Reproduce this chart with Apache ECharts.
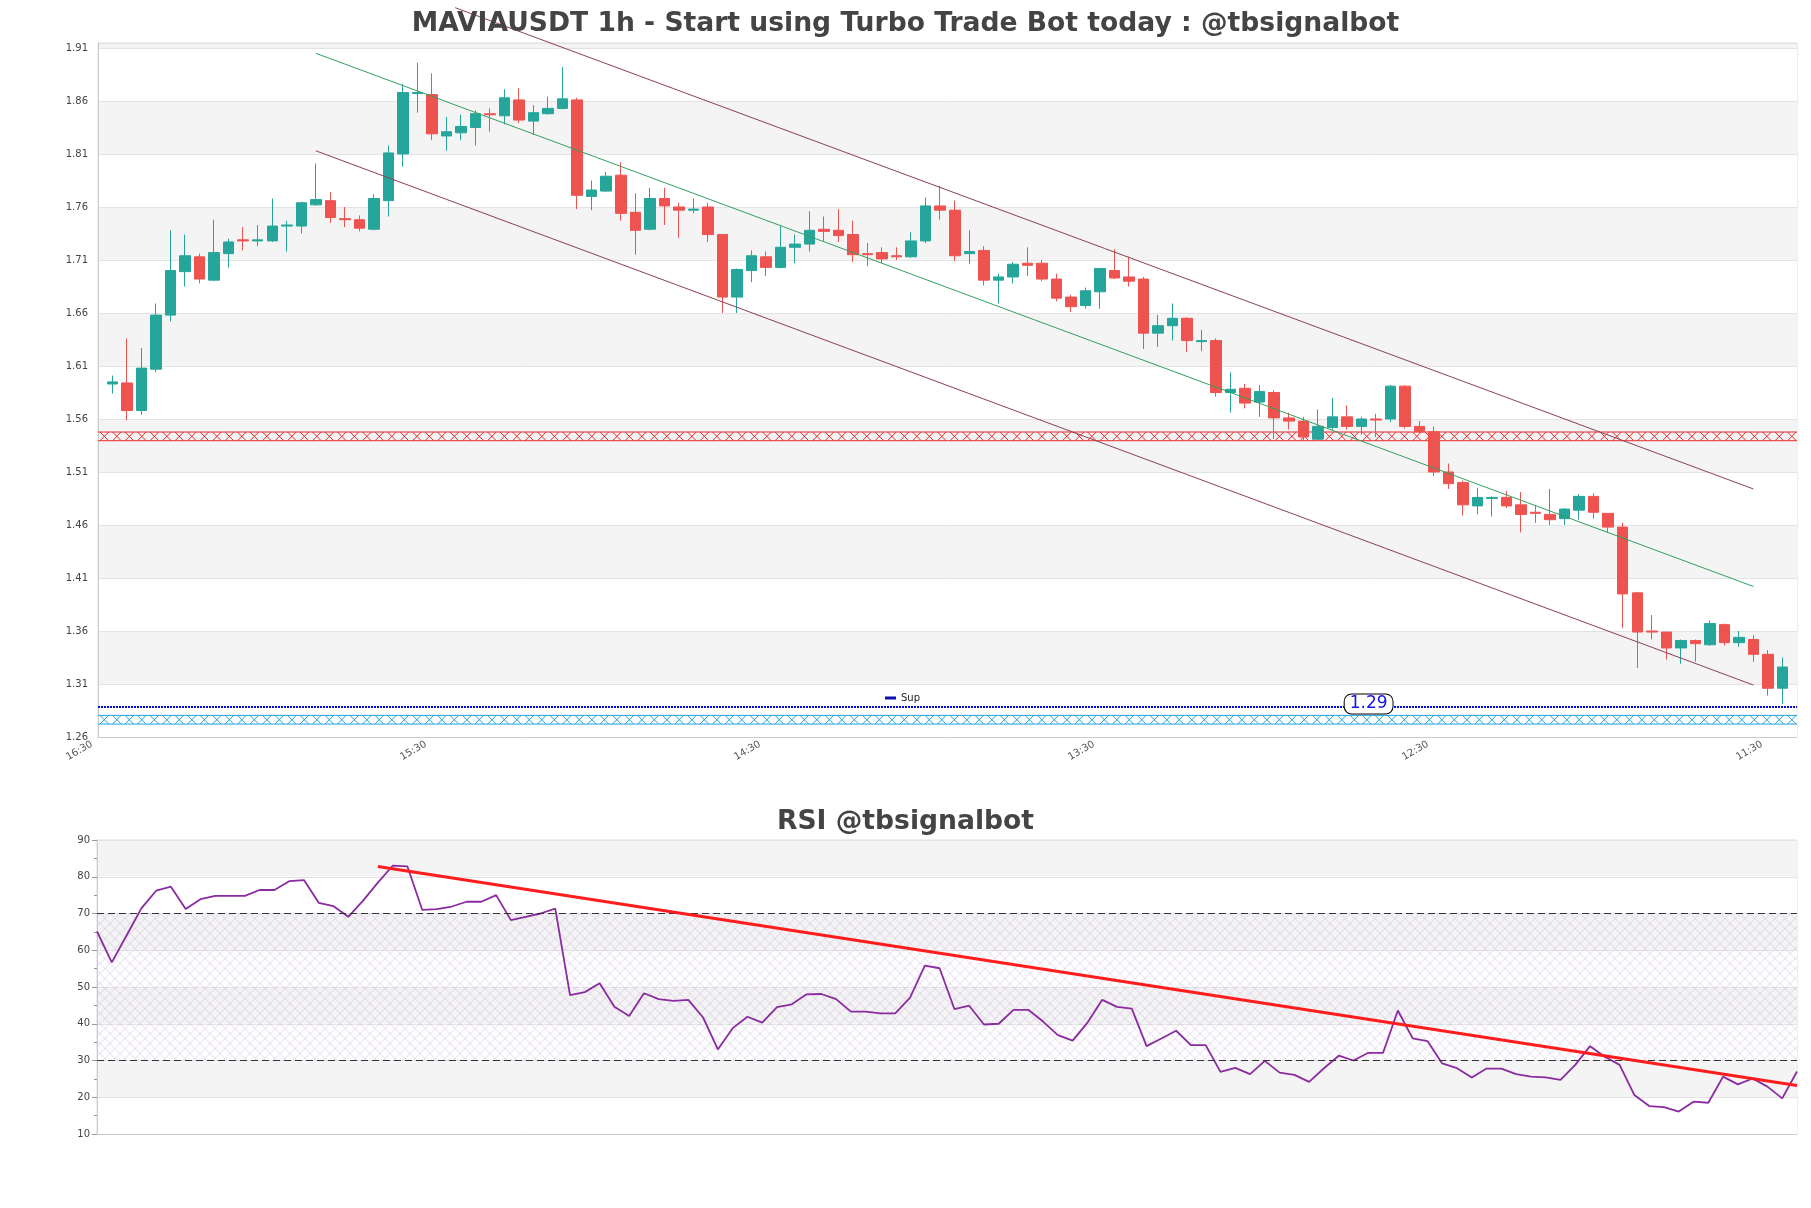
<!DOCTYPE html>
<html>
<head>
<meta charset="utf-8">
<script src="https://cdn.jsdelivr.net/npm/echarts@6/dist/echarts.min.js"></script>
<style>
html, body { margin: 0; padding: 0; background: #fff; }
#chart { width: 1811px; height: 1208px; }
</style>
</head>
<body>
<div id="chart"></div>
<script>
// x tick labels (one every 23 candles, starting one step left of the first candle)
var TIME_LABELS = ['16:30', '15:30', '14:30', '13:30', '12:30', '11:30'];

var OPEN = [1.593,1.594,1.568,1.607,1.658,1.699,1.713,1.691,1.716,1.729,
  1.728,1.728,1.742,1.742,1.762,1.766,1.749,1.748,1.739,1.766,
  1.810,1.867,1.866,1.827,1.830,1.835,1.848,1.846,1.861,1.841,
  1.848,1.853,1.861,1.770,1.775,1.790,1.755,1.739,1.768,1.760,
  1.757,1.760,1.734,1.675,1.700,1.713,1.703,1.722,1.725,1.739,
  1.738,1.734,1.716,1.717,1.714,1.713,1.728,1.761,1.757,1.716,
  1.719,1.691,1.694,1.707,1.707,1.692,1.675,1.667,1.680,1.700,
  1.694,1.692,1.641,1.648,1.655,1.633,1.634,1.585,1.589,1.576,
  1.585,1.561,1.558,1.541,1.552,1.562,1.553,1.560,1.560,1.591,
  1.553,1.548,1.510,1.500,1.478,1.485,1.486,1.479,1.472,1.470,
  1.466,1.474,1.487,1.471,1.458,1.396,1.360,1.359,1.344,1.351,
  1.347,1.366,1.349,1.352,1.338,1.306];

var CLOSE = [1.595,1.568,1.608,1.658,1.700,1.714,1.692,1.717,1.727,1.728,
  1.729,1.742,1.743,1.764,1.767,1.750,1.748,1.740,1.768,1.811,
  1.868,1.868,1.829,1.831,1.836,1.848,1.847,1.863,1.842,1.849,
  1.853,1.862,1.771,1.776,1.789,1.754,1.738,1.768,1.761,1.757,
  1.758,1.734,1.675,1.701,1.714,1.703,1.722,1.725,1.738,1.737,
  1.733,1.715,1.715,1.711,1.713,1.728,1.761,1.757,1.714,1.718,
  1.691,1.694,1.706,1.705,1.692,1.674,1.666,1.681,1.702,1.693,
  1.690,1.641,1.648,1.655,1.634,1.634,1.585,1.588,1.575,1.586,
  1.561,1.558,1.543,1.553,1.562,1.553,1.560,1.559,1.591,1.553,
  1.548,1.510,1.499,1.479,1.486,1.486,1.478,1.470,1.471,1.465,
  1.475,1.487,1.472,1.458,1.395,1.359,1.359,1.344,1.351,1.348,
  1.367,1.349,1.354,1.338,1.306,1.326];

var LOW = [1.584,1.559,1.564,1.604,1.652,1.685,1.688,1.690,1.703,1.719,
  1.723,1.727,1.718,1.735,1.761,1.745,1.741,1.737,1.738,1.751,
  1.798,1.849,1.823,1.813,1.823,1.818,1.831,1.838,1.839,1.828,
  1.847,1.852,1.758,1.757,1.774,1.747,1.715,1.738,1.743,1.731,
  1.754,1.727,1.660,1.660,1.689,1.695,1.702,1.707,1.718,1.728,
  1.727,1.708,1.704,1.707,1.710,1.712,1.726,1.748,1.709,1.706,
  1.686,1.669,1.688,1.695,1.690,1.671,1.661,1.664,1.664,1.692,
  1.685,1.626,1.628,1.634,1.623,1.624,1.581,1.566,1.570,1.562,
  1.541,1.550,1.540,1.540,1.550,1.550,1.545,1.543,1.557,1.551,
  1.547,1.506,1.494,1.469,1.470,1.468,1.476,1.453,1.462,1.460,
  1.460,1.465,1.466,1.453,1.363,1.325,1.352,1.333,1.329,1.331,
  1.346,1.346,1.345,1.331,1.299,1.291];

var HIGH = [1.601,1.636,1.627,1.669,1.738,1.734,1.716,1.748,1.730,1.741,
  1.743,1.768,1.747,1.765,1.801,1.774,1.760,1.752,1.772,1.818,
  1.876,1.896,1.886,1.845,1.847,1.851,1.853,1.871,1.872,1.856,
  1.864,1.892,1.863,1.785,1.793,1.802,1.773,1.778,1.778,1.764,
  1.768,1.764,1.734,1.702,1.719,1.718,1.742,1.734,1.756,1.751,
  1.758,1.747,1.726,1.722,1.722,1.736,1.769,1.780,1.766,1.738,
  1.723,1.697,1.708,1.722,1.710,1.697,1.677,1.684,1.702,1.720,
  1.713,1.694,1.658,1.669,1.656,1.644,1.636,1.604,1.593,1.592,
  1.587,1.566,1.562,1.569,1.580,1.573,1.562,1.565,1.592,1.592,
  1.558,1.553,1.518,1.502,1.495,1.487,1.492,1.491,1.479,1.494,
  1.476,1.489,1.490,1.471,1.462,1.397,1.375,1.359,1.352,1.352,
  1.370,1.367,1.360,1.356,1.342,1.335];

var RSI = [65.1,56.7,64.0,71.4,76.2,77.3,71.2,73.9,74.8,74.8,
  74.8,76.4,76.4,78.8,79.1,72.9,72.0,69.1,73.5,78.4,
  83.0,82.8,71.0,71.2,71.9,73.2,73.2,75.0,68.2,69.1,
  70.0,71.3,47.8,48.6,51.0,44.6,42.1,48.3,46.7,46.2,
  46.5,41.7,33.0,38.8,41.9,40.3,44.5,45.3,48.0,48.1,
  46.7,43.3,43.3,42.8,42.8,47.1,55.8,55.1,44.0,44.9,
  39.8,40.0,43.8,43.8,40.6,36.9,35.4,40.3,46.5,44.6,
  44.1,33.9,36.0,38.1,34.2,34.2,26.9,28.0,26.3,29.9,
  26.7,26.1,24.2,27.9,31.3,30.0,32.1,32.1,43.6,36.0,
  35.3,29.2,27.9,25.4,27.8,27.8,26.3,25.6,25.4,24.7,
  28.8,33.9,31.0,28.8,20.6,17.6,17.3,16.1,18.8,18.5,
  25.6,23.5,25.1,22.9,19.7,27.0];

// price channel (start / end candle index and price)
var UPPER_X = [23.6, 113];
var CHANNEL_UPPER = [1.948, 1.494];
var CHANNEL_X = [14, 113];
var CHANNEL_MID = [1.905, 1.402];
var CHANNEL_LOWER = [1.813, 1.309];

var SUP_LEVEL = 1.2883;
var SUP_LABEL = '1.29';
var SUP_LABEL_X = 86.5;
var RES_ZONE = [1.5395, 1.5477];
var SUP_ZONE = [1.2722, 1.2804];

var RSI_TREND_X = [19, 115];
var RSI_TREND_Y = [82.8, 23.2];
var RSI_LEVELS = [70, 30];

var X_MIN = -1, X_MAX = 116, X_STEP = 23;
var Y_MIN = 1.26, Y_MAX = 1.9147, Y_STEP = 0.05;

var FONT = 'DejaVu Sans';

function onStep (v, start, step) {
  var k = (v - start) / step;
  return Math.abs(k - Math.round(k)) < 1e-6;
}

function seg (a, b) {
  return [[a[0], b[0]], [a[1], b[1]]];
}

// band with X hatching, like matplotlib's axhspan(hatch='x')
function hatchBand (zone, color) {
  return {
    type: 'custom',
    xAxisIndex: 0,
    yAxisIndex: 0,
    silent: true,
    z: 1,
    data: [[0, zone[0], zone[1]]],
    encode: {x: 0, y: [1, 2]},
    renderItem: function (params, api) {
      var cs = params.coordSys;
      var yTop = api.coord([0, api.value(2)])[1];
      var yBot = api.coord([0, api.value(1)])[1];
      var h = yBot - yTop;
      var st = {stroke: color, lineWidth: 1};
      var kids = [
        {type: 'line', shape: {x1: cs.x, y1: yTop, x2: cs.x + cs.width, y2: yTop}, style: st},
        {type: 'line', shape: {x1: cs.x, y1: yBot, x2: cs.x + cs.width, y2: yBot}, style: st}
      ];
      for (var x = cs.x + 2; x + h <= cs.x + cs.width; x += 12.5) {
        kids.push({type: 'line', shape: {x1: x, y1: yTop, x2: x + h, y2: yBot}, style: st});
        kids.push({type: 'line', shape: {x1: x + h, y1: yTop, x2: x, y2: yBot}, style: st});
      }
      return {type: 'group', children: kids};
    }
  };
}

// faint cross hatching of the RSI 30-70 zone
function rsiHatch () {
  return {
    type: 'custom',
    xAxisIndex: 1,
    yAxisIndex: 1,
    silent: true,
    z: 1,
    data: [[0, RSI_LEVELS[1], RSI_LEVELS[0]]],
    encode: {x: 0, y: [1, 2]},
    renderItem: function (params, api) {
      var cs = params.coordSys;
      var yT = api.coord([0, api.value(2)])[1];
      var yB = api.coord([0, api.value(1)])[1];
      var H = yB - yT;
      var x0 = cs.x, x1 = cs.x + cs.width;
      var st = {stroke: 'rgba(185,150,205,0.5)', lineWidth: 0.7};
      var kids = [];
      for (var c = x0 - H; c < x1 + H; c += 10) {
        // down-right
        var a = Math.max(c, x0), b = Math.min(c + H, x1);
        if (b > a) kids.push({type: 'line', shape: {x1: a, y1: yT + (a - c), x2: b, y2: yT + (b - c)}, style: st});
        // down-left
        a = Math.max(c - H, x0); b = Math.min(c, x1);
        if (b > a) kids.push({type: 'line', shape: {x1: b, y1: yT + (c - b), x2: a, y2: yT + (c - a)}, style: st});
      }
      return {type: 'group', children: kids};
    }
  };
}

var candleData = OPEN.map(function (o, i) { return [i, o, CLOSE[i], LOW[i], HIGH[i]]; });
var rsiData = RSI.map(function (v, i) { return [i, v]; });

var chart = echarts.init(document.getElementById('chart'));

var option = {
  animation: false,
  backgroundColor: '#ffffff',
  textStyle: {fontFamily: FONT},
  title: [
    {
      text: 'MAVIAUSDT 1h - Start using Turbo Trade Bot today : @tbsignalbot',
      left: 'center',
      top: 6,
      textStyle: {fontFamily: FONT, fontSize: 26.6, fontWeight: 'bold', color: '#444'}
    },
    {
      text: 'RSI @tbsignalbot',
      left: 'center',
      top: 804,
      textStyle: {fontFamily: FONT, fontSize: 26.6, fontWeight: 'bold', color: '#444'}
    }
  ],
  legend: {
    data: [{name: 'Sup', icon: 'rect'}],
    left: 880,
    top: 688,
    itemWidth: 11,
    itemHeight: 3,
    selectedMode: false,
    textStyle: {fontFamily: FONT, fontSize: 10, color: '#222'}
  },
  grid: [
    {left: 98, top: 43, width: 1699, height: 694, show: true, borderColor: '#dddddd', borderWidth: 1},
    {left: 97, top: 840, width: 1700, height: 294, show: true, borderColor: '#dddddd', borderWidth: 1}
  ],
  xAxis: [
    {
      type: 'value',
      gridIndex: 0,
      min: X_MIN,
      max: X_MAX,
      interval: X_STEP,
      axisLine: {show: true, onZero: false, lineStyle: {color: '#cccccc'}},
      axisTick: {show: false},
      splitLine: {show: false},
      axisLabel: {
        rotate: 30,
        fontSize: 10,
        color: '#555',
        margin: 3,
        padding: [0, 7, 0, 0],
        showMaxLabel: false,
        formatter: function (v) {
          if (!onStep(v, X_MIN, X_STEP)) return '';
          return TIME_LABELS[Math.round((v - X_MIN) / X_STEP)] || '';
        }
      }
    },
    {
      type: 'value',
      gridIndex: 1,
      min: 0,
      max: RSI.length - 1,
      axisLine: {show: true, onZero: false, lineStyle: {color: '#cccccc'}},
      axisTick: {show: false},
      axisLabel: {show: false},
      splitLine: {show: false}
    }
  ],
  yAxis: [
    {
      type: 'value',
      gridIndex: 0,
      min: Y_MIN,
      max: Y_MAX,
      interval: Y_STEP,
      axisLine: {show: true, onZero: false, lineStyle: {color: '#cccccc'}},
      axisTick: {show: false},
      axisLabel: {
        fontSize: 10,
        color: '#444',
        margin: 10,
        formatter: function (v) { return onStep(v, Y_MIN, Y_STEP) ? v.toFixed(2) : ''; }
      },
      splitLine: {lineStyle: {color: '#e3e3e3'}},
      splitArea: {show: true, areaStyle: {color: ['#ffffff', '#f4f4f4']}}
    },
    {
      type: 'value',
      gridIndex: 1,
      min: 10,
      max: 90,
      interval: 10,
      axisLine: {show: true, onZero: false, lineStyle: {color: '#cccccc'}},
      axisTick: {show: true, length: 5, lineStyle: {color: '#999'}},
      minorTick: {show: true, splitNumber: 2, length: 3, lineStyle: {color: '#999'}},
      axisLabel: {fontSize: 10, color: '#444', margin: 7},
      splitLine: {lineStyle: {color: '#e3e3e3'}},
      splitArea: {show: true, areaStyle: {color: ['#ffffff', '#f4f4f4']}}
    }
  ],
  series: [
    hatchBand(RES_ZONE, '#e8292c'),
    hatchBand(SUP_ZONE, '#1fa3dc'),
    {
      type: 'candlestick',
      xAxisIndex: 0,
      yAxisIndex: 0,
      data: candleData,
      encode: {x: 0, y: [1, 2, 3, 4]},
      barWidth: 11,
      z: 3,
      itemStyle: {
        color: '#26a69a',
        color0: '#ef5350',
        borderColor: '#26a69a',
        borderColor0: '#ef5350',
        borderWidth: 1
      }
    },
    {
      type: 'line',
      xAxisIndex: 0,
      yAxisIndex: 0,
      data: seg(UPPER_X, CHANNEL_UPPER),
      showSymbol: false,
      clip: false,
      silent: true,
      z: 4,
      lineStyle: {color: '#8c3f55', width: 1}
    },
    {
      type: 'line',
      xAxisIndex: 0,
      yAxisIndex: 0,
      data: seg(CHANNEL_X, CHANNEL_MID),
      showSymbol: false,
      silent: true,
      z: 4,
      lineStyle: {color: '#33a060', width: 1}
    },
    {
      type: 'line',
      xAxisIndex: 0,
      yAxisIndex: 0,
      data: seg(CHANNEL_X, CHANNEL_LOWER),
      showSymbol: false,
      silent: true,
      z: 4,
      lineStyle: {color: '#8c3f55', width: 1}
    },
    {
      name: 'Sup',
      type: 'line',
      xAxisIndex: 0,
      yAxisIndex: 0,
      color: '#1010b0',
      data: [[X_MIN, SUP_LEVEL], [X_MAX, SUP_LEVEL]],
      showSymbol: false,
      silent: true,
      z: 4,
      lineStyle: {color: '#0a0ad8', width: 2, type: [2, 1]},
      markPoint: {
        symbol: 'rect',
        symbolSize: 1,
        itemStyle: {color: 'rgba(0,0,0,0)'},
        label: {
          show: true,
          position: 'inside',
          formatter: SUP_LABEL,
          fontFamily: FONT,
          fontSize: 17,
          lineHeight: 17,
          color: '#1414e6',
          backgroundColor: '#ffffff',
          borderColor: '#000000',
          borderWidth: 1,
          borderRadius: 7,
          padding: [1, 5, 1, 5],
          offset: [0, -3]
        },
        data: [{coord: [SUP_LABEL_X, SUP_LEVEL]}]
      }
    },
    rsiHatch(),
    {
      type: 'line',
      xAxisIndex: 1,
      yAxisIndex: 1,
      data: rsiData,
      showSymbol: false,
      silent: true,
      z: 3,
      lineStyle: {color: '#8a2ba0', width: 1.8},
      markLine: {
        silent: true,
        symbol: 'none',
        label: {show: false},
        lineStyle: {color: '#333333', width: 1.2, type: [7, 4]},
        data: RSI_LEVELS.map(function (v) { return {yAxis: v}; })
      }
    },
    {
      type: 'line',
      xAxisIndex: 1,
      yAxisIndex: 1,
      data: seg(RSI_TREND_X, RSI_TREND_Y),
      showSymbol: false,
      silent: true,
      z: 5,
      lineStyle: {color: '#ff1c1c', width: 3}
    }
  ]
};

chart.setOption(option);
</script>
</body>
</html>
